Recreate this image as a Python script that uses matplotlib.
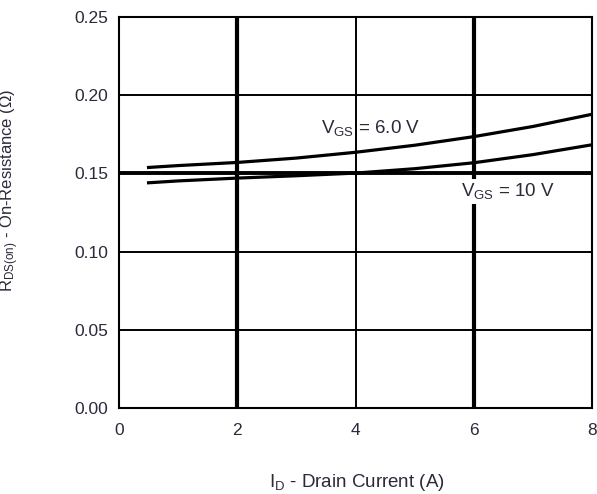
import matplotlib
matplotlib.use('Agg')
import matplotlib.pyplot as plt

# Drain current samples (A) and on-resistance (ohm) for each gate drive
drain_current = [0.5, 1.0, 2.0, 3.0, 4.0, 5.0, 6.0, 7.0, 8.0]
rds_vgs_6v = [0.1538, 0.1550, 0.1570, 0.1598, 0.1635, 0.1680, 0.1735, 0.1800, 0.1878]
rds_vgs_10v = [0.1440, 0.1452, 0.1470, 0.1485, 0.1502, 0.1530, 0.1568, 0.1620, 0.1683]

x_ticks = [0, 2, 4, 6, 8]
y_ticks = [0.00, 0.05, 0.10, 0.15, 0.20, 0.25]
thick_x = [2, 6]
thick_y = [0.15]

plt.rcParams['font.family'] = ['Liberation Sans', 'DejaVu Sans']
plt.rcParams['mathtext.fontset'] = 'custom'
plt.rcParams['mathtext.rm'] = 'Liberation Sans'
plt.rcParams['mathtext.it'] = 'Liberation Sans'

text_color = '#2a2a3a'

fig = plt.figure(figsize=(5.97, 4.94), dpi=100)
ax = fig.add_axes([119 / 597, 1 - 408 / 494, (592 - 119) / 597, (408 - 17) / 494])

# Grid: a few lines are drawn heavier than the rest
for xv in x_ticks[1:-1]:
    ax.axvline(xv, color='black', lw=3.0 if xv in thick_x else 1.4, zorder=1)
for yv in y_ticks[1:-1]:
    ax.axhline(yv, color='black', lw=2.8 if yv in thick_y else 1.4, zorder=1)

ax.plot(drain_current, rds_vgs_6v, color='black', lw=2.3, zorder=3)
ax.plot(drain_current, rds_vgs_10v, color='black', lw=2.3, zorder=3)

ax.text(3.42, 0.1756, r'V$_{\mathrm{GS}}$ = 6.0 V', fontsize=13.5, color=text_color,
        ha='left', va='baseline', zorder=4)
ax.text(5.78, 0.1353, r'V$_{\mathrm{GS}}$ = 10 V', fontsize=13.5, color=text_color,
        ha='left', va='baseline', zorder=4,
        bbox=dict(facecolor='white', edgecolor='none', pad=2.0))

ax.set_xlim(0, 8)
ax.set_ylim(0, 0.25)
ax.set_xticks(x_ticks)
ax.set_yticks(y_ticks)
ax.set_yticklabels([f'{v:.2f}' for v in y_ticks])
ax.tick_params(length=0, labelsize=12.5, labelcolor=text_color)
ax.tick_params(axis='y', pad=8)
ax.tick_params(axis='x', pad=11)

for spine in ax.spines.values():
    spine.set_linewidth(1.5)
    spine.set_color('black')

ax.set_xlabel(r'I$_{\mathrm{D}}$ - Drain Current (A)', fontsize=13.5, color=text_color)
ax.set_ylabel(r'R$_{\mathrm{DS(on)}}$ - On-Resistance ($\Omega$)', fontsize=12,
              color=text_color)
ax.xaxis.set_label_coords(0.503, -0.164)
ax.yaxis.set_label_coords(-0.207, 0.557)

fig.savefig('out.png', dpi=100, facecolor='white')
plt.close(fig)
